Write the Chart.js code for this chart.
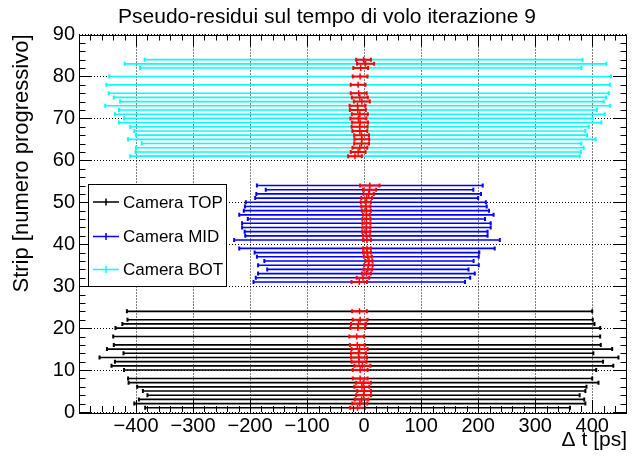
<!DOCTYPE html>
<html>
<head>
<meta charset="utf-8">
<script src="https://cdn.jsdelivr.net/npm/chart.js@4.4.0/dist/chart.umd.min.js"></script>
<style>
  html, body { margin: 0; padding: 0; background: #fff; }
  #wrap { width: 633px; height: 461px; }
</style>
</head>
<body>
<div id="wrap"><canvas id="myChart" width="633" height="461"></canvas></div>
<script>
const chartTitle = "Pseudo-residui sul tempo di volo iterazione 9";
const xTitle = "\u0394 t [ps]";
const yTitle = "Strip [numero progressivo]";
const cameraNames = ["Camera TOP", "Camera MID", "Camera BOT"];
const xTicks = [-400, -300, -200, -100, 0, 100, 200, 300, 400];
const yTicks = [0, 10, 20, 30, 40, 50, 60, 70, 80, 90];

// camera TOP
const topStrips = [1, 2, 3, 4, 5, 6, 7, 8, 10, 11, 12, 13, 14, 15, 16, 18, 20, 21, 22, 24];
const topMean   = [-11.5, -7.5, -4.5, -1, 0, -4, -1, -7, -7, -3, -9, -9, -10, -8, -12, -13, -11, -10, -7, -8];
const topSigma  = [372.5, 395.5, 390.5, 379, 388, 394, 412, 407, 414, 440, 428, 455, 412, 443, 427, 427, 425, 414, 408, 408];
const topErr    = [13, 13, 12, 13, 12, 13, 13, 13, 13, 14, 13, 14, 13, 14, 13, 13, 13, 13, 13, 13];

// camera MID
const midStrips = [31, 32, 33, 34, 35, 36, 37, 38, 39, 41, 42, 43, 44, 45, 46, 47, 48, 49, 50, 51, 52, 53, 54];
const midMean   = [-8.5, -2, 4, 6.5, 7.5, 8.5, 6.5, 5, 5, 5, 4, 3.5, 4, 4, 4, 4, 4, 3, 3, 4.5, 8, 9.5, 10];
const midSigma  = [185.5, 188, 190, 176.5, 193.5, 183.5, 194.5, 197, 224, 233, 212.5, 213, 218, 218, 208, 223, 215, 212, 210.5, 195.5, 197, 182, 198];
const midErr    = [13.5, 11, 8, 7.5, 7.5, 6, 7, 7, 7, 7, 6, 7, 7, 7, 7, 6, 8, 8, 9, 9.5, 9, 11.5, 17];

// camera BOT
const botStrips = [61, 62, 63, 64, 65, 66, 67, 68, 69, 70, 71, 72, 73, 74, 75, 76, 78, 80, 82, 83, 84];
const botMean   = [-16, -10.5, -7.5, -4.5, -4, -4.5, -7.5, -8, -7, -10, -7.5, -11, -11.5, -4, -7.5, -9.5, -10.5, -7, -6, 2.5, -1];
const botSigma  = [394, 390.5, 392.5, 385.5, 410, 395.5, 395.5, 402, 423, 411, 429.5, 419, 442.5, 424, 431.5, 438.5, 441.5, 440, 387, 422.5, 384];
const botErr    = [12, 13, 13, 13, 13, 13, 13, 14, 14, 14, 14, 14, 14, 14, 14, 14, 13, 13, 13, 15, 13];

const cameraColors = ["#000000", "#0000ff", "#00ffff"];
const meanColor = "#ff0000";
const font = "'Liberation Sans', Arial, Helvetica, sans-serif";

function segments(strips, mean, half){
  const pts = [];
  strips.forEach((s, i) => {
    pts.push({x: mean[i] - half[i], y: s});
    pts.push({x: mean[i] + half[i], y: s});
    pts.push({x: mean[i], y: null});
  });
  return pts;
}

function ends(strips, mean, half){
  const pts = [];
  strips.forEach((s, i) => {
    pts.push({x: mean[i] - half[i], y: s});
    pts.push({x: mean[i] + half[i], y: s});
  });
  return pts;
}

function centers(strips, mean){
  return strips.map((s, i) => ({x: mean[i], y: s}));
}

const groups = [
  [topStrips, topMean, topSigma, topErr],
  [midStrips, midMean, midSigma, midErr],
  [botStrips, botMean, botSigma, botErr]
];

const datasets = [];
groups.forEach((g, k) => {
  const [strips, mean, sigma, err] = g;
  datasets.push({
    label: cameraNames[k],
    data: segments(strips, mean, sigma),
    showLine: true, spanGaps: false,
    borderColor: cameraColors[k], borderWidth: 1.6,
    pointRadius: 0, order: 5
  });
  datasets.push({
    label: cameraNames[k] + " ends",
    data: ends(strips, mean, sigma),
    showLine: false,
    pointStyle: "line", rotation: 90, pointRadius: 2,
    borderColor: cameraColors[k], pointBorderWidth: 2, order: 4
  });
  datasets.push({
    label: cameraNames[k] + " mean",
    data: segments(strips, mean, err),
    showLine: true, spanGaps: false,
    borderColor: meanColor, borderWidth: 2,
    pointRadius: 0, order: 1
  });
  datasets.push({
    label: cameraNames[k] + " mean ends",
    data: ends(strips, mean, err),
    showLine: false,
    pointStyle: "line", rotation: 90, pointRadius: 2,
    borderColor: meanColor, pointBorderWidth: 2, order: 0
  });
  datasets.push({
    label: cameraNames[k] + " mean marker",
    data: centers(strips, mean),
    showLine: false,
    pointStyle: "line", rotation: 90, pointRadius: 3,
    borderColor: meanColor, pointBorderWidth: 1.5, order: 0
  });
});

// frame with inward ticks on the four sides, title and legend
const framePlugin = {
  id: "frame",
  afterDatasetsDraw(chart){
    const {ctx, chartArea: a, scales: {x, y}} = chart;
    ctx.save();
    ctx.strokeStyle = "#000";
    ctx.lineWidth = 1;
    ctx.beginPath();
    for(let v = -500; v <= 461; v += 20){
      const px = Math.round(x.getPixelForValue(v)) + 0.5;
      const len = v % 100 === 0 ? 12 : 6;
      ctx.moveTo(px, a.bottom); ctx.lineTo(px, a.bottom - len);
      ctx.moveTo(px, a.top); ctx.lineTo(px, a.top + len);
    }
    for(let v = 0; v <= 90; v += 2){
      const py = Math.round(y.getPixelForValue(v)) + 0.5;
      const len = v % 10 === 0 ? 13 : 6.5;
      ctx.moveTo(a.left, py); ctx.lineTo(a.left + len, py);
      ctx.moveTo(a.right, py); ctx.lineTo(a.right - len, py);
    }
    ctx.stroke();
    ctx.strokeRect(Math.round(a.left) + 0.5, Math.round(a.top) + 0.5,
      Math.round(a.right - a.left) - 1, Math.round(a.bottom - a.top));

    // legend
    const bx = 88.5, by = 184.5, bw = 138, bh = 102;
    ctx.fillStyle = "#fff";
    ctx.fillRect(bx, by, bw, bh);
    ctx.strokeRect(bx, by, bw, bh);
    const rows = [202, 236.5, 269.5];
    ctx.font = "17px " + font;
    ctx.textBaseline = "middle";
    ctx.textAlign = "left";
    cameraNames.forEach((name, k) => {
      ctx.strokeStyle = cameraColors[k];
      ctx.lineWidth = 1.5;
      ctx.beginPath();
      ctx.moveTo(93, rows[k]); ctx.lineTo(119, rows[k]);
      ctx.moveTo(106, rows[k] - 3.5); ctx.lineTo(106, rows[k] + 3.5);
      ctx.stroke();
      ctx.fillStyle = "#000";
      ctx.fillText(name, 123, rows[k] + 1);
    });

    // title
    ctx.font = "21px " + font;
    ctx.textAlign = "center";
    ctx.fillStyle = "#000";
    ctx.fillText(chartTitle, 327, 17);
    ctx.restore();
  }
};

const minus = v => (v < 0 ? "\u2212" + Math.abs(v) : String(v));

const ctx = document.getElementById("myChart").getContext("2d");
const myChart = new Chart(ctx, {
  type: "scatter",
  data: { datasets: datasets },
  options: {
    responsive: false,
    animation: false,
    devicePixelRatio: 1,
    events: [],
    layout: { padding: { top: 34.5, right: 1, left: 0, bottom: 0 } },
    plugins: { legend: { display: false }, tooltip: { enabled: false }, title: { display: false } },
    scales: {
      x: {
        type: "linear", min: -500, max: 461,
        afterBuildTicks: s => { s.ticks = xTicks.map(v => ({value: v})); },
        afterFit: s => { s.height = 49; },
        grid: { color: "#000", lineWidth: 1, drawTicks: false },
        border: { display: false, dash: [1, 2] },
        ticks: { color: "#000", font: { family: font, size: 20 }, padding: 2, maxRotation: 0, callback: v => minus(v) },
        title: { display: true, text: xTitle, align: "end", color: "#000", font: { family: font, size: 21 }, padding: { top: 0, bottom: 8 } }
      },
      y: {
        type: "linear", min: 0, max: 90,
        afterBuildTicks: s => { s.ticks = yTicks.map(v => ({value: v})); },
        afterFit: s => { s.width = 79; },
        grid: { color: "#000", lineWidth: 1, drawTicks: false },
        border: { display: false, dash: [1, 2] },
        ticks: { color: "#000", font: { family: font, size: 20 }, padding: 4, callback: v => String(v) },
        title: { display: true, text: yTitle, align: "end", color: "#000", font: { family: font, size: 22 }, padding: { top: 9, bottom: 0 } }
      }
    }
  },
  plugins: [framePlugin]
});
</script>
</body>
</html>
